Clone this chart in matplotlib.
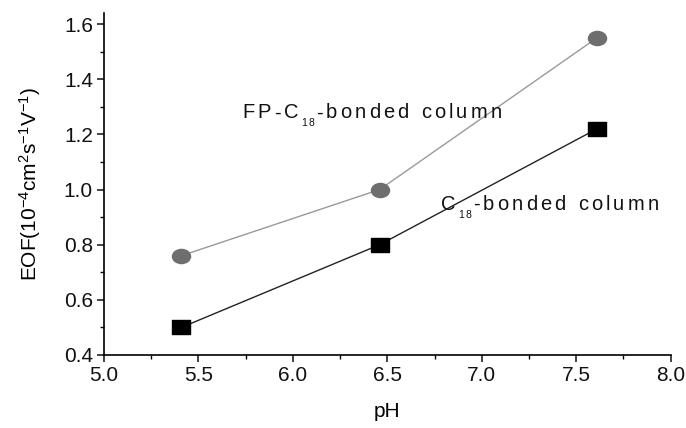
import numpy as np
import matplotlib.pyplot as plt
from matplotlib.path import Path
from matplotlib.transforms import Affine2D, offset_copy
from matplotlib.ticker import MultipleLocator
from matplotlib.font_manager import findfont, FontProperties
from matplotlib.ft2font import FT2Font

plt.rcParams['font.family'] = ['Liberation Sans', 'DejaVu Sans']
plt.rcParams['mathtext.fontset'] = 'custom'
plt.rcParams['mathtext.rm'] = 'Liberation Sans'
plt.rcParams['mathtext.it'] = 'Liberation Sans'
plt.rcParams['mathtext.default'] = 'regular'

# data
ph = [5.41, 6.46, 7.61]
eof_fp = [0.76, 1.00, 1.55]
eof_c18 = [0.50, 0.80, 1.22]

# slightly wide markers like the original
ellipse = Path.unit_circle().transformed(Affine2D().scale(1.28, 1.0))
rect = Path([(-1.2, -1), (1.2, -1), (1.2, 1), (-1.2, 1), (-1.2, -1)],
            [Path.MOVETO, Path.LINETO, Path.LINETO, Path.LINETO, Path.CLOSEPOLY])

fig = plt.figure(figsize=(6.86, 4.28), dpi=100)
ax = fig.add_axes([0.1516, 0.1706, 0.8260, 0.7990])

ax.plot(ph, eof_fp, color='#9a9a9a', lw=1.0, marker=ellipse, ms=13,
        mfc='#6e6e6e', mec='#6e6e6e')
ax.plot(ph, eof_c18, color='#222222', lw=1.0, marker=rect, ms=12.5,
        mfc='black', mec='black')

ax.set_xlim(5.0, 8.0)
ax.set_ylim(0.4, 1.64)
ax.xaxis.set_major_locator(MultipleLocator(0.5))
ax.xaxis.set_minor_locator(MultipleLocator(0.25))
ax.yaxis.set_major_locator(MultipleLocator(0.2))
ax.yaxis.set_minor_locator(MultipleLocator(0.1))
ax.xaxis.set_major_formatter(plt.FormatStrFormatter('%.1f'))
ax.yaxis.set_major_formatter(plt.FormatStrFormatter('%.1f'))

for s in ['top', 'right']:
    ax.spines[s].set_visible(False)
for s in ['left', 'bottom']:
    ax.spines[s].set_linewidth(1.2)

ax.tick_params(which='major', direction='out', length=5, width=1.1,
               labelsize=15, pad=3, colors='#111111')
ax.tick_params(which='minor', direction='out', length=3, width=1.0)

ax.set_xlabel('pH', fontsize=15, labelpad=12)
ax.set_ylabel('EOF(10$^{-4}$cm$^{2}$s$^{-1}$V$^{-1}$)', fontsize=15, labelpad=15)

# letter-spaced labels, drawn one glyph at a time
ft = FT2Font(findfont(FontProperties(family='Liberation Sans')))


def advance(ch, size):
    ft.set_size(size, fig.dpi)
    return ft.load_char(ord(ch)).linearHoriAdvance / 65536.0


def spaced(x, y, parts, size=14.5, subsize=7.5, track=3.2, subdrop=8):
    off = 0.0
    for txt, sub in parts:
        fs = subsize if sub else size
        dy = -subdrop if sub else 0
        for ch in txt:
            tr = offset_copy(ax.transData, fig=fig, x=off, y=dy, units='dots')
            ax.text(x, y, ch, fontsize=fs, transform=tr, ha='left',
                    va='baseline', color='#111111')
            off += advance(ch, fs) + (1.0 if sub else track)
        if sub:
            off += 0.5


spaced(5.73, 1.258, [('FP-C', False), ('18', True), ('-bonded column', False)])
spaced(6.784, 0.926, [('C', False), ('18', True), ('-bonded column', False)])

fig.savefig('out.png', dpi=100)
